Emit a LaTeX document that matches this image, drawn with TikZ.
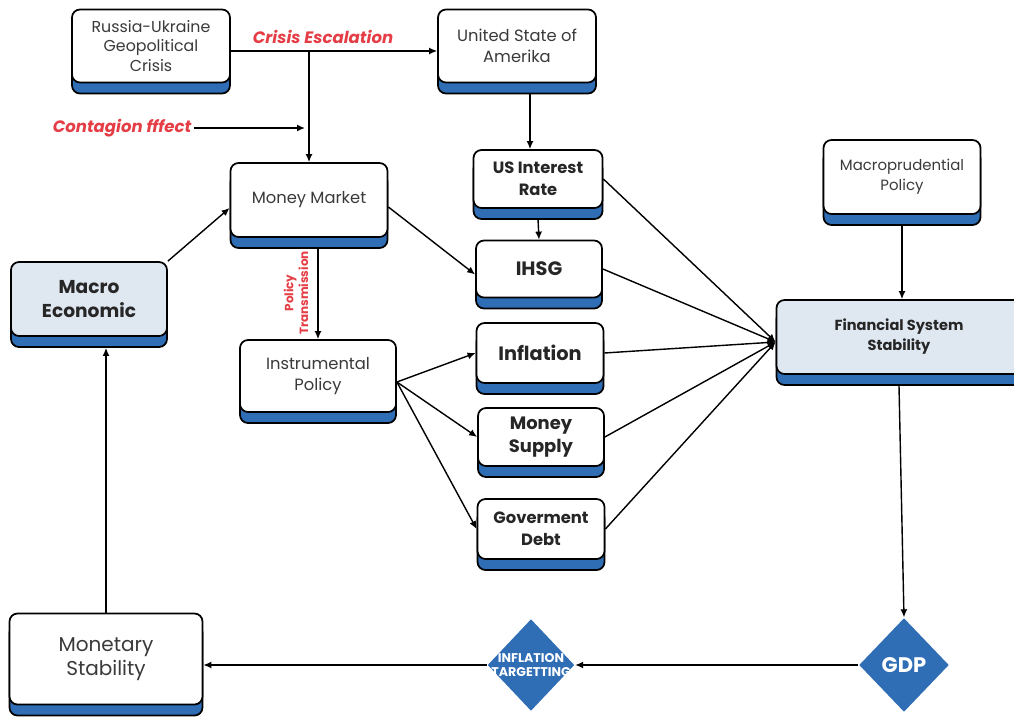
\documentclass[tikz,border=0pt]{standalone}
\usepackage{fontspec}
\setmainfont{Poppins}
\usepackage{tikz}
\usetikzlibrary{shapes.geometric, shadows}
\usetikzlibrary{arrows.meta}
\tikzset{>={Latex[width=1.4mm,length=1.6mm]}}
\definecolor{boxblue}{HTML}{2F6DB5}
\definecolor{paleblue}{HTML}{DFE7F1}
\definecolor{crisisred}{HTML}{E43D45}
\definecolor{boxtext}{HTML}{3A3A3A}

\begin{document}
\begin{tikzpicture}[x=0.2mm, y=-0.2mm, thick, box/.style={rectangle, rounded corners=1.6mm, draw=black, line width=1pt, fill=white, align=center, inner sep=0pt, text=boxtext, font=\fontsize{9.3}{12}\selectfont, copy shadow={shadow xshift=0pt, shadow yshift=-2.2mm, fill=boxblue, draw=black, line width=1pt}}, keybox/.style={box, text=black!85, font=\bfseries\fontsize{11}{13}\selectfont}, mainbox/.style={box, fill=paleblue, text=black!85, font=\bfseries\fontsize{10.6}{14}\selectfont}, decision/.style={diamond, fill=boxblue, draw=none, inner sep=0pt, text=white, align=center}, redtext/.style={text=crisisred, font=\bfseries\itshape\fontsize{9.4}{11}\selectfont, inner sep=1pt, align=center}]

    \useasboundingbox (0,0) rectangle (1014,718);

    %Nodes
    \node[box, font=\fontsize{9}{11.3}\selectfont, minimum width=3.16cm, minimum height=1.46cm](russia) at (151,46){Russia-Ukraine\\Geopolitical\\Crisis};
    \node[box, minimum width=3.16cm, minimum height=1.46cm](usa) at (517,46){United State of\\Amerika};
    \node[keybox, font=\bfseries\fontsize{9.3}{12.5}\selectfont, minimum width=2.58cm, minimum height=1.16cm](usrate) at (538,179){US Interest\\Rate};
    \node[keybox, minimum width=2.52cm, minimum height=1.14cm](ihsg) at (539,269){IHSG};
    \node[keybox, minimum width=2.54cm, minimum height=1.2cm](inflation) at (540,353){Inflation};
    \node[keybox, font=\bfseries\fontsize{10.2}{13}\selectfont, minimum width=2.52cm, minimum height=1.16cm](supply) at (541,437){Money\\Supply};
    \node[keybox, font=\bfseries\fontsize{9.3}{12.5}\selectfont, minimum width=2.54cm, minimum height=1.2cm](debt) at (541,529){Goverment\\Debt};
    \node[box, minimum width=3.14cm, minimum height=1.48cm](market) at (309,200){Money Market};
    \node[box, minimum width=3.12cm, minimum height=1.44cm](instrument) at (318,376){Instrumental\\Policy};
    \node[mainbox, minimum width=3.12cm, minimum height=1.48cm](macro) at (89,299){Macro\\Economic};
    \node[box, font=\fontsize{8.5}{11.5}\selectfont, minimum width=3.14cm, minimum height=1.48cm](macropru) at (902,177){Macroprudential\\Policy};
    \node[mainbox, font=\bfseries\fontsize{8.3}{11.3}\selectfont, minimum width=4.9cm, minimum height=1.48cm](fss) at (899,337){Financial System\\Stability};
    \node[box, font=\fontsize{11.4}{14}\selectfont, minimum width=3.86cm, minimum height=1.82cm](monetary) at (106,659){Monetary\\Stability};
    \node[decision, inner sep=-2.5mm, font=\bfseries\fontsize{7.2}{8.5}\selectfont, minimum width=1.74cm, minimum height=1.84cm](targeting) at (531,665){INFLATION\\TARGETTING};
    \node[decision, font=\bfseries\fontsize{12}{14}\selectfont, minimum width=1.8cm, minimum height=1.88cm](gdp) at (904,665){GDP};
    \node[redtext](escalation) at (323,37){Crisis Escalation};
    \node[redtext](contagion) at (122,128){Contagion fffect};
    \node[redtext, font=\bfseries\fontsize{6.8}{8.3}\selectfont, rotate=90](transmission) at (296,293){Policy\\Transmission};

    %Lines
    \coordinate (split) at ([yshift=-1mm]russia.east -| market.north);
    \coordinate (fin) at ([yshift=-1mm]fss.west);
    \coordinate (policyout) at ([yshift=-1.2mm]instrument.east);
    \draw[->] ([yshift=-1mm]russia.east) -- ([yshift=-1mm]usa.west);
    \draw[->] (split) -- (market.north);
    \draw[->] (contagion.east) -- ([xshift=-0.8mm]contagion.east -| market.north);
    \draw[->] ([xshift=-1.6mm, yshift=-2.2mm]usrate.north |- usa.south) -- ([xshift=-1.6mm]usrate.north);
    \draw[->] ([yshift=-2mm]usrate.south) -- (ihsg.north);
    \draw[->] (macro.north east) -- ([yshift=-1.6mm]market.west);
    \draw[->] ([yshift=-1.4mm]market.east) -- ([yshift=-1.1mm]ihsg.west);
    \draw[->] ([yshift=-2.2mm]instrument.north |- market.south) -- (instrument.north);
    \draw[->] (policyout) -- (inflation.west);
    \draw[->] (policyout) -- (supply.west);
    \draw[->] (policyout) -- (debt.west);
    \draw[->] (usrate.east) -- (fin);
    \draw[->] (ihsg.east) -- (fin);
    \draw[->] (inflation.east) -- (fin);
    \draw[->] (supply.east) -- (fin);
    \draw[->] (debt.east) -- (fin);
    \draw[->] ([yshift=-2.2mm]macropru.south) -- (macropru.south |- fss.north);
    \draw[->] ([yshift=-2.2mm]fss.south) -- (gdp.north);
    \draw[->] (gdp.west) -- (targeting.east);
    \draw[->] (targeting.west) -- (targeting.west -| monetary.east);
    \draw[->] (monetary.north) -- ([yshift=-2.2mm]monetary.north |- macro.south);

\end{tikzpicture}
\end{document}
